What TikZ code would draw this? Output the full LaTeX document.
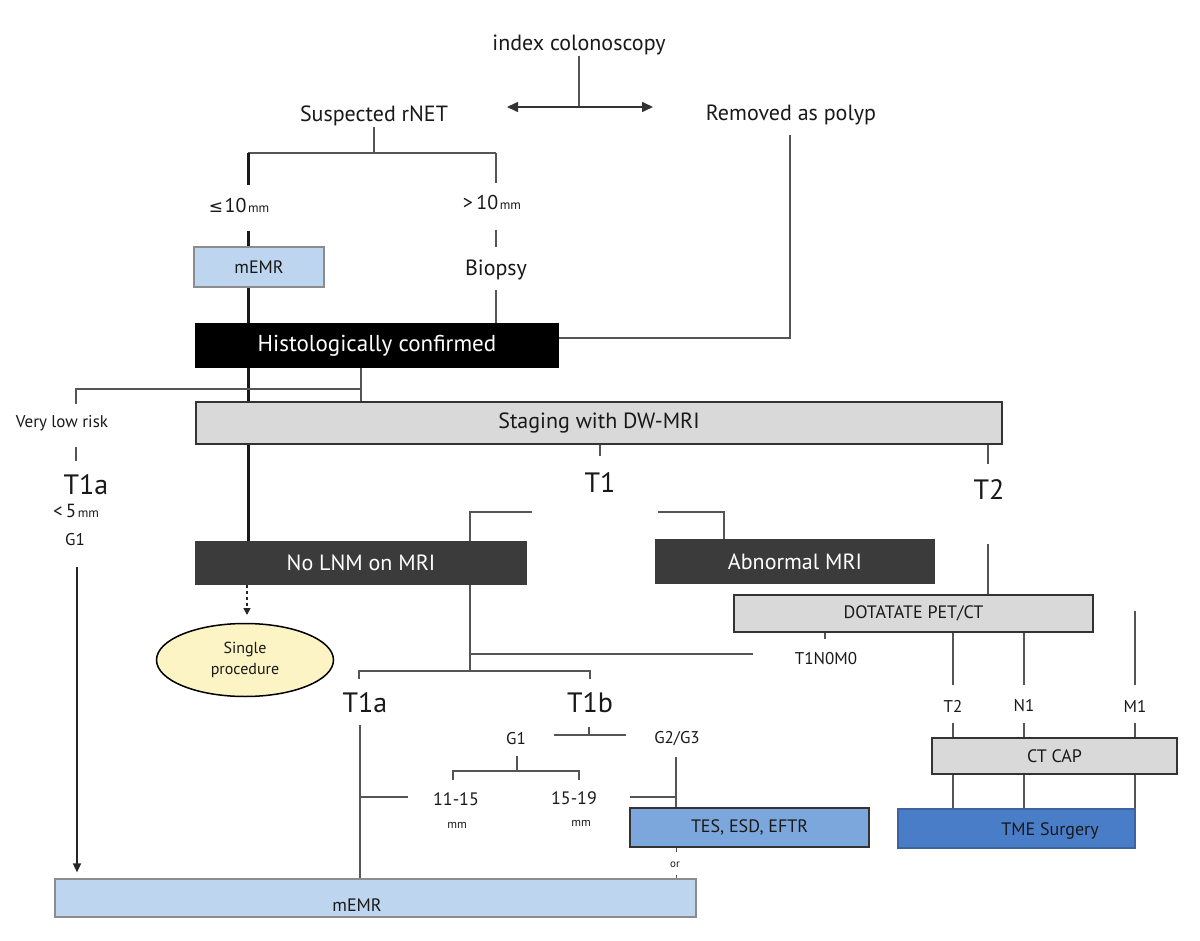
\documentclass[tikz,border=0pt]{standalone}
\usepackage{fontspec}
\setmainfont{PT Sans}
\newfontfamily\symfont{DejaVu Sans}
\usetikzlibrary{shapes.geometric,arrows.meta,backgrounds}
\definecolor{lblue}{HTML}{BDD5EE}
\definecolor{mblue}{HTML}{7BA7DC}
\definecolor{dblue}{HTML}{4A7DC8}
\definecolor{dgray}{HTML}{3B3B3B}
\definecolor{lgray}{HTML}{D9D9D9}
\definecolor{lyel}{HTML}{FCF4C4}
\definecolor{lncol}{HTML}{555555}
\begin{document}
\begin{tikzpicture}[x=1pt,y=-1pt,
  lbl/.style={inner sep=1pt, text=black!90},
  big/.style={lbl, font=\fontsize{22}{26}\selectfont},
  huge/.style={lbl, font=\fontsize{28}{32}\selectfont},
  small/.style={lbl, font=\fontsize{17}{20}\selectfont},
  tiny/.style={lbl, font=\fontsize{12}{14}\selectfont},
  box/.style={draw=black!80, line width=1.2pt, inner sep=0pt, text=black!90},
  darkbox/.style={box, fill=dgray, draw=dgray, text=white, font=\fontsize{22}{26}\selectfont},
  ln/.style={draw=lncol, line width=1.6pt},
  thk/.style={draw=black!90, line width=3pt},
  tip/.style={-{Triangle[length=9pt,width=8pt]}},
]
\useasboundingbox (0,0) rectangle (1200,941);

% ---- nodes ----
\node[big] (idx) at (579,45) {index colonoscopy};
\node[big] (susp) at (374,116) {Suspected rNET};
\node[big] (polyp) at (791,115) {Removed as polyp};
\node[lbl] (le10) at (239,206) {{\symfont\fontsize{17}{20}\selectfont ≤}\,{\fontsize{20}{22}\selectfont 10}\,{\fontsize{13}{15}\selectfont mm}};
\node[lbl] (gt10) at (492,203) {{\fontsize{20}{22}\selectfont >\,10}\,{\fontsize{13}{15}\selectfont mm}};
\node[big] (biopsy) at (496,270) {Biopsy};
\node[box, fill=lblue, draw=black!45, minimum width=130pt, minimum height=40pt, font=\fontsize{18}{20}\selectfont] (memrA) at (259,267) {mEMR};
\node[box, fill=black, draw=black, text=white, minimum width=362pt, minimum height=43pt, font=\fontsize{23}{26}\selectfont] (histo) at (377,345.5) {Histologically confirmed};
\node[box, fill=lgray, minimum width=806pt, minimum height=42pt, font=\fontsize{22}{26}\selectfont] (staging) at (599,423) {Staging with DW-MRI};
\node[small] (vlr) at (62,423) {Very low risk};
\node[huge] (t1aL) at (86,485) {T1a};
\node[lbl] (lt5) at (76,511) {{\fontsize{19}{20}\selectfont <\,5}\,{\fontsize{13}{14}\selectfont mm}};
\node[small] (g1L) at (75,540) {G1};
\node[huge] (t1) at (600,483) {T1};
\node[huge] (t2) at (989,490) {T2};
\node[darkbox, minimum width=330pt, minimum height=42pt] (nolnm) at (361,563) {No LNM on MRI};
\node[darkbox, minimum width=278pt, minimum height=43pt] (abn) at (795,561.5) {Abnormal MRI};
\node[box, fill=lgray, minimum width=359pt, minimum height=37pt, font=\fontsize{18}{21}\selectfont] (dota) at (913.5,613.5) {DOTATATE PET/CT};
\node[ellipse, draw=black, line width=1.5pt, fill=lyel, minimum width=177pt, minimum height=73pt, inner sep=0pt, align=center, text=black!90, font=\fontsize{16}{21}\selectfont] (single) at (245,660) {Single\\procedure};
\node[small] (tnm) at (826,659) {T1N0M0};
\node[huge] (t1a) at (365,703) {T1a};
\node[huge] (t1b) at (590,703) {T1b};
\node[small] (g1) at (516,739) {G1};
\node[small] (g23) at (677,739) {G2/G3};
\node[lbl, font=\fontsize{18}{20}\selectfont] (r1) at (456,799) {11-15};
\node[tiny] (mm1) at (457,825) {mm};
\node[lbl, font=\fontsize{18}{20}\selectfont] (r2) at (574,798) {15-19};
\node[tiny] (mm2) at (581,823) {mm};
\node[box, fill=mblue, minimum width=239pt, minimum height=39pt, font=\fontsize{18}{21}\selectfont] (tes) at (749.5,827.5) {TES, ESD, EFTR};
\node[lbl, font=\fontsize{11}{13}\selectfont] (or) at (675,865) {or};
\node[box, fill=lblue, draw=black!45, minimum width=641pt, minimum height=38pt] (memrB) at (375.5,898) {};
\node[lbl, font=\fontsize{18}{20}\selectfont] (memrBt) at (357,905) {mEMR};
\node[small] (lT2) at (953,706) {T2};
\node[small] (lN1) at (1024,706) {N1};
\node[small] (lM1) at (1135,706) {M1};
\node[box, fill=lgray, minimum width=245pt, minimum height=36pt, font=\fontsize{18}{21}\selectfont] (ctcap) at (1054.5,756) {CT CAP};
\node[box, fill=dblue, draw=dblue!80!black, minimum width=237pt, minimum height=39pt] (tme) at (1016.5,828.5) {};
\node[lbl, font=\fontsize{18}{21}\selectfont] (tmet) at (1050,831) {TME Surgery};

% ---- connectors (behind boxes) ----
\begin{scope}[on background layer]
\fill[white] (0,0) rectangle (1200,941);
\coordinate (iB) at (579,107);
\coordinate (aL) at (507,107); \coordinate (aR) at (653,107);
\draw[ln] (idx) -- (iB);
\draw[ln, draw=black!80, {Triangle[length=11pt,width=10pt]}-{Triangle[length=11pt,width=10pt]}] (aL) -- (aR);
\coordinate (sb) at (374,153); \coordinate (sl) at (248,153); \coordinate (sr) at (496,153);
\draw[ln] (susp) -- (sb);
\draw[ln] (sl) -- (sr);
\coordinate (le10t) at (248,185); \coordinate (le10b) at (248,231);
\coordinate (gt10t) at (496,183); \coordinate (gt10b) at (496,230);
\coordinate (bioT) at (496,247); \coordinate (bioB) at (496,290);
\draw[thk] (sl) -- (le10t);
\draw[ln] (sr) -- (gt10t);
\draw[thk] (le10b) -- (le10b |- memrA.north);
\draw[ln] (gt10b) -- (bioT);
\draw[ln] (bioB) -- (bioB |- histo.north);
\draw[thk] (memrA.south -| le10b) -- (histo.north -| le10b);
\coordinate (polB) at (790,135); \coordinate (polC) at (790,338);
\draw[ln] (polB) -- (polC) -- (polC -| histo.east);
\draw[thk] (histo.south -| le10b) -- (nolnm.north -| le10b);
\coordinate (hs) at (361,389); \coordinate (vlrB) at (76,389); \coordinate (vlrT) at (76,404);
\draw[ln] (histo.south -| hs) -- (staging.north -| hs);
\draw[ln] (hs) -- (vlrB) -- (vlrT);
\coordinate (vA) at (76,447); \coordinate (vB) at (76,461);
\draw[ln] (vA) -- (vB);
\coordinate (arrT) at (77,567);
\draw[ln, draw=black!85, tip, shorten >=6pt] (arrT) -- (arrT |- memrB.north);
\coordinate (t1s) at (600,456); \draw[ln] (staging.south -| t1s) -- (t1s);
\coordinate (t2s) at (988,464); \draw[ln] (staging.south -| t2s) -- (t2s);
\coordinate (bl) at (470,512); \coordinate (blE) at (532,512);
\coordinate (brS) at (658,512); \coordinate (br) at (724,512);
\draw[ln] (nolnm.north -| bl) -- (bl) -- (blE);
\draw[ln] (brS) -- (br) -- (br |- abn.north);
\coordinate (t2d) at (988,544); \draw[ln] (t2d) -- (t2d |- dota.north);
\coordinate (dsh) at (247,615);
\draw[draw=black!85, line width=1.5pt, dashed, -{Triangle[length=7pt,width=7pt]}] (nolnm.south -| dsh) -- (dsh);
\coordinate (nj) at (470,654); \coordinate (njE) at (753,654); \coordinate (nb) at (470,671);
\draw[ln] (nolnm.south -| nb) -- (nb);
\draw[ln] (nj) -- (njE);
\coordinate (tk) at (825,639); \draw[ln] (dota.south -| tk) -- (tk);
\coordinate (ta1) at (359,679); \coordinate (ta2) at (359,671);
\coordinate (tb2) at (590,671); \coordinate (tb1) at (590,679);
\draw[ln] (ta1) -- (ta2) -- (tb2) -- (tb1);
\coordinate (t1aS) at (360,725); \draw[ln] (t1aS) -- (t1aS |- memrB.north);
\coordinate (t1aJ) at (360,797); \coordinate (t1aE) at (408,797); \draw[ln] (t1aJ) -- (t1aE);
\coordinate (tbT) at (589,727); \coordinate (tbJ) at (589,735);
\coordinate (gL) at (554,735); \coordinate (gR) at (626,735);
\draw[ln] (tbT) -- (tbJ); \draw[ln] (gL) -- (gR);
\coordinate (g1T) at (517,756); \coordinate (g1J) at (517,771);
\coordinate (rA1) at (453,780); \coordinate (rA2) at (453,771);
\coordinate (rB2) at (579,771); \coordinate (rB1) at (579,780);
\draw[ln] (g1T) -- (g1J); \draw[ln] (rA1) -- (rA2) -- (rB2) -- (rB1);
\coordinate (gg) at (676,757); \draw[ln] (gg) -- (gg |- tes.north);
\coordinate (ggJ) at (676,797); \coordinate (ggW) at (630,797); \draw[ln] (ggW) -- (ggJ);
\coordinate (orA) at (676,852); \draw[ln, line width=1pt] (tes.south -| orA) -- (orA);
\coordinate (orB) at (676,875); \draw[ln, line width=1pt] (orB) -- (orB |- memrB.north);
\coordinate (pT2) at (953,685); \coordinate (pN1) at (1024,685);
\coordinate (pM1a) at (1135,611); \coordinate (pM1b) at (1135,685);
\draw[ln] (dota.south -| pT2) -- (pT2);
\draw[ln] (dota.south -| pN1) -- (pN1);
\draw[ln] (pM1a) -- (pM1b);
\coordinate (qT2) at (953,723); \coordinate (qN1) at (1024,723); \coordinate (qM1) at (1135,723);
\draw[ln] (qT2) -- (qT2 |- ctcap.north);
\draw[ln] (qN1) -- (qN1 |- ctcap.north);
\draw[ln] (qM1) -- (qM1 |- ctcap.north);
\coordinate (mEnd) at (1135,817);
\draw[ln] (ctcap.south -| qT2) -- (qT2 |- tme.north);
\draw[ln] (ctcap.south -| qN1) -- (qN1 |- tme.north);
\draw[ln] (ctcap.south -| qM1) -- (mEnd);
\end{scope}
\end{tikzpicture}
\end{document}
